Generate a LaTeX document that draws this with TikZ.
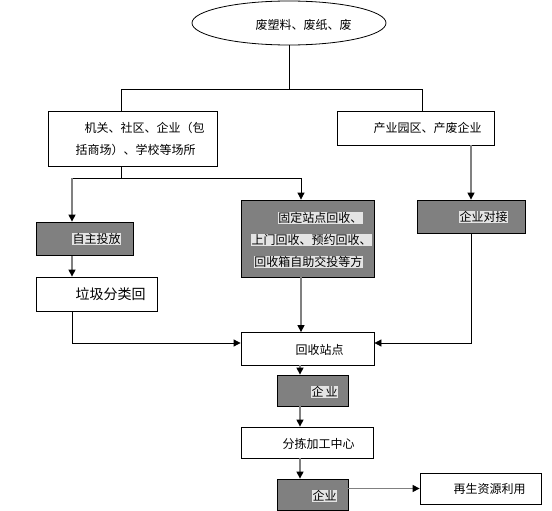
\documentclass[tikz,border=0pt]{standalone}
\usepackage{fontspec}
\newfontfamily\cjk{Noto Sans CJK SC}
\usetikzlibrary{arrows.meta, positioning, shapes.geometric}
\definecolor{boxgray}{RGB}{128,128,128}
\definecolor{hlgray}{RGB}{228,228,228}

\begin{document}
\begin{tikzpicture}[x=1pt, y=-1pt,
    every node/.style={font=\cjk\fontsize{12}{14}\selectfont},
    box/.style={draw, line width=0.8pt, inner sep=0pt},
    darkbox/.style={box, fill=boxgray},
    txt/.style={anchor=west, inner sep=0.5pt},
    hl/.style={txt, fill=hlgray},
    line/.style={line width=0.8pt},
    arr/.style={line, -{Triangle[length=7pt, width=7pt, color=black]}},
    garr/.style={arr, draw=boxgray, line width=1.2pt}]
    \useasboundingbox (0,0) rectangle (552,511);

    % Boxes
    \node[box, ellipse, minimum width=194pt, minimum height=44pt] (src) at (289,23) {};
    \node[box, minimum width=169pt, minimum height=55pt] (jg) at (132.5,138.5) {};
    \node[box, minimum width=157pt, minimum height=34pt] (cy) at (415.5,128) {};
    \node[darkbox, minimum width=97pt, minimum height=33.5pt] (zz) at (84.5,238.75) {};
    \node[darkbox, minimum width=133pt, minimum height=77pt] (gd) at (307.5,238.5) {};
    \node[darkbox, minimum width=108pt, minimum height=33pt] (qd) at (471,216.5) {};
    \node[box, minimum width=121pt, minimum height=34pt] (lj) at (96.5,294) {};
    \node[box, minimum width=133pt, minimum height=32.5pt] (hs) at (307.5,348.75) {};
    \node[darkbox, minimum width=71pt, minimum height=31pt] (qy1) at (312.5,390.5) {};
    \node[box, minimum width=132pt, minimum height=31pt] (fj) at (307,442.5) {};
    \node[darkbox, minimum width=71pt, minimum height=31pt] (qy2) at (312.5,494.5) {};
    \node[box, minimum width=121pt, minimum height=31pt] (zs) at (480.5,488.5) {};

    % Texts
    \node[txt] (srct) at (255,25) {废塑料、废纸、废};
    \node[txt, align=left, font=\cjk\fontsize{12}{22}\selectfont] (jgt) at (75,139)
        {\hspace*{9pt}机关、社区、企业（包\\括商场）、学校等场所};
    \node[txt] (cyt) at (373,128) {产业园区、产废企业};
    \node[hl] (zzt) at (72,239) {自主投放};
    \node[hl, anchor=east] (gdt1) at (363,218) {固定站点回收、};
    \node[hl] (gdt2) at (251,240) {上门回收、预约回收、};
    \node[hl, anchor=east] (gdt3) at (363,262) {回收箱自助交投等方};
    \node[hl] (qdt) at (459,217) {企业对接};
    \node[txt, font=\cjk\fontsize{14}{16}\selectfont] (ljt) at (75,294) {垃圾分类回};
    \node[txt] (hst) at (295,349.5) {回收站点};
    \node[hl] (qy1t) at (311,392) {企\,业};
    \node[txt] (fjt) at (282,444) {分拣加工中心};
    \node[hl] (qy2t) at (312,496) {企业};
    \node[txt] (zst) at (453,489) {再生资源利用};

    % Connectors
    \coordinate (jL) at (121,89);
    \coordinate (jR) at (422,89);
    \coordinate (kL) at (72,178);
    \coordinate (kR) at (301,178);
    \coordinate (cx) at (300,0);
    \draw[line] (src.south) -- (src.south |- jL);
    \draw[line] (jL |- jg.north) -- (jL) -- (jR) -- (jR |- cy.north);
    \draw[line] (jL |- jg.south) -- (jL |- kL);
    \draw[line] (kL) -- (kR);
    \draw[garr] (kL) -- (kL |- zz.north);
    \draw[arr] (kR) -- (kR |- gd.north);
    \draw[garr] (cy.south -| qd.north) -- (qd.north);
    \draw[garr] (zz.south -| kL) -- (lj.north -| kL);
    \draw[arr] (lj.south -| kL) |- ([yshift=5.75pt]hs.west);
    \draw[garr] (gd.south -| kR) -- (hs.north -| kR);
    \draw[arr] (qd.south) |- ([yshift=5.75pt]hs.east);
    \draw[garr] (hs.south -| cx) -- (qy1.north -| cx);
    \draw[garr] (qy1.south -| cx) -- (fj.north -| cx);
    \draw[garr] (fj.south -| cx) -- (qy2.north -| cx);
    \draw[garr] (qy2.east |- zs.west) -- (zs.west);
\end{tikzpicture}
\end{document}
